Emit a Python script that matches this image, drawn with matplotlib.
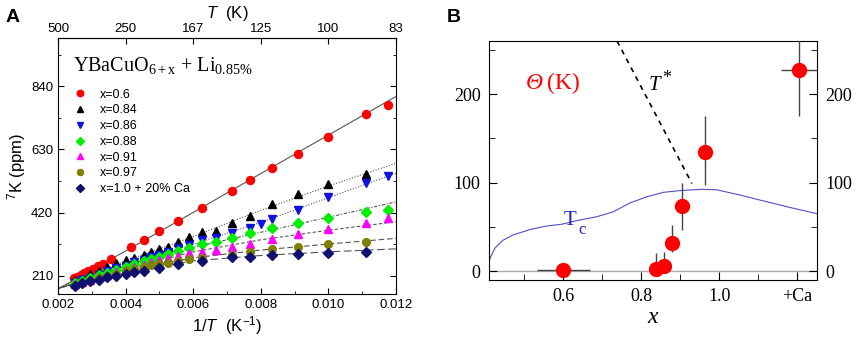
import numpy as np
import matplotlib
matplotlib.use("Agg")
import matplotlib.pyplot as plt
from matplotlib.lines import Line2D

plt.rcParams["mathtext.fontset"] = "custom"
plt.rcParams["mathtext.rm"] = "Liberation Sans"
plt.rcParams["mathtext.it"] = "Liberation Sans:italic"

# ---------------- Panel A data ----------------
# temperatures (K) at which 7K shift was measured, and shift values (ppm)
T_red = [405, 390, 375, 360, 345, 330, 315, 300, 280, 240, 220, 200, 180, 160, 140, 130, 120, 110, 100, 90, 85]
K_red = [202, 207, 213, 219, 226, 234, 242, 251, 266, 305, 329, 360, 392, 436, 493, 527, 567, 616, 672, 748, 777]

T_blk = [400, 370, 340, 310, 290, 270, 250, 235, 220, 210, 200, 190, 180, 170, 160, 150, 140, 130, 120, 110, 100, 90]
K_blk = [195, 200, 215, 228, 240, 252, 262, 271, 280, 291, 298, 306, 322, 338, 355, 360, 387, 409, 448, 481, 514, 548]

T_blu = [400, 370, 340, 310, 290, 270, 250, 235, 220, 210, 200, 190, 180, 170, 160, 150, 140, 130, 125, 120, 110, 100, 90, 85]
K_blu = [186, 195, 204, 214, 225, 235, 244, 255, 262, 272, 278, 290, 302, 312, 329, 335, 354, 370, 381, 398, 428, 473, 518, 542]

T_grn = [400, 370, 340, 310, 290, 270, 250, 235, 220, 210, 200, 190, 180, 170, 160, 150, 140, 130, 120, 110, 100, 90, 85]
K_grn = [185, 192, 203, 212, 220, 230, 241, 250, 258, 266, 273, 284, 294, 302, 316, 322, 335, 352, 370, 387, 403, 424, 430]

T_mag = [400, 370, 340, 310, 290, 270, 250, 235, 220, 210, 200, 190, 180, 170, 160, 150, 140, 130, 120, 110, 100, 90, 85]
K_mag = [183, 190, 198, 207, 214, 224, 231, 241, 247, 255, 262, 268, 275, 285, 291, 296, 305, 316, 334, 350, 366, 387, 401]

T_olv = [400, 370, 340, 310, 290, 270, 250, 235, 220, 210, 200, 190, 180, 170, 160, 140, 130, 120, 110, 100, 90]
K_olv = [180, 188, 196, 204, 210, 218, 226, 233, 240, 246, 250, 254, 258, 265, 268, 278, 290, 299, 305, 315, 322]

T_nvy = [400, 370, 340, 310, 290, 270, 250, 235, 220, 200, 180, 160, 140, 130, 120, 110, 100, 90]
K_nvy = [178, 186, 192, 198, 206, 210, 218, 222, 225, 237, 250, 258, 272, 272, 281, 283, 287, 291]

labels_A = ["x=0.6", "x=0.84", "x=0.86", "x=0.88", "x=0.91", "x=0.97", "x=1.0 + 20% Ca"]

# fit curves read at these 1/T positions
fit_u = [0.002, 0.004, 0.006, 0.008, 0.010, 0.012]
fit_red = [167, 293, 421, 550, 678, 806]
fit_blk = [169, 260, 341, 428, 509, 584]
fit_blu = [169, 245, 315, 388, 470, 551]
fit_grn = [169, 240, 305, 355, 405, 456]
fit_mag = [169, 232, 290, 330, 362, 390]
fit_olv = [169, 228, 270, 296, 316, 335]
fit_nvy = [169, 222, 260, 278, 290, 300]

bottom_ticks = [0.002, 0.004, 0.006, 0.008, 0.010, 0.012]
bottom_labels = ["0.002", "0.004", "0.006", "0.008", "0.010", "0.012"]
top_tick_T = [500, 250, 500 / 3, 125, 100, 250 / 3]
top_labels = ["500", "250", "167", "125", "100", "83"]
left_ticks = [210, 420, 630, 840]

# ---------------- Panel B data ----------------
x_B = [0.6, 0.838, 0.858, 0.879, 0.905, 0.963, 1.205]
theta = [1, 2, 6, 32, 74, 135, 227]
theta_err_lo = [0, 0, 0, 10, 28, 38, 52]
theta_err_hi = [0, 18, 16, 20, 26, 40, 52]
x_err = [0.068, 0, 0, 0, 0, 0.018, 0.048]

tc_x = [0.41, 0.412, 0.425, 0.446, 0.472, 0.515, 0.557, 0.596, 0.634, 0.686, 0.728, 0.771,
        0.814, 0.856, 0.899, 0.955, 0.993, 1.053, 1.121, 1.181, 1.25]
tc_y = [10, 14, 26, 35, 41, 47, 51, 53, 57, 61.5, 67, 77, 84, 89, 91, 92.5, 92, 86, 78.5, 72, 65]

tstar_x = [0.738, 0.93]
tstar_y = [260, 99]

xB_ticks = [0.6, 0.8, 1.0, 1.2]
xB_labels = ["0.6", "0.8", "1.0", "+Ca"]
yB_ticks = [0, 100, 200]

# ---------------- Figure ----------------
fig = plt.figure(figsize=(8.58, 3.39), dpi=100)
sans = ["Liberation Sans", "DejaVu Sans"]
serif = ["Liberation Serif", "DejaVu Serif"]

axA = fig.add_axes([0.0676, 0.1327, 0.394, 0.755])
series = [
    (T_red, K_red, fit_red, "red", "o", "-", 5.8),
    (T_blk, K_blk, fit_blk, "black", "^", (0, (1, 1.5)), 5.5),
    (T_blu, K_blu, fit_blu, "#1010e0", "v", (0, (1, 1.5)), 5.5),
    (T_grn, K_grn, fit_grn, "#00ee00", "D", (0, (3, 1.5, 1, 1.5)), 5.0),
    (T_mag, K_mag, fit_mag, "#ff00ff", "^", (0, (3, 2)), 5.5),
    (T_olv, K_olv, fit_olv, "#808000", "o", (0, (5, 2.5)), 5.5),
    (T_nvy, K_nvy, fit_nvy, "#10106e", "D", (0, (7, 3)), 5.0),
]
handles = []
for (T, K, fit, col, mk, ls, ms), lab in zip(series, labels_A):
    axA.plot(fit_u, fit, color="#555555", lw=0.8, ls=ls, zorder=1)
    u = 1.0 / np.asarray(T, dtype=float)
    axA.plot(u, K, ls="none", marker=mk, color=col, ms=ms, mec=col, zorder=3)
    handles.append(Line2D([], [], ls="none", marker=mk, color=col, ms=ms * 0.8))

axA.set_xlim(0.002, 0.012)
axA.set_ylim(150, 1000)
axA.set_xticks(bottom_ticks)
axA.set_xticklabels(bottom_labels, family=sans, fontsize=9.5)
axA.set_xticks(np.arange(0.003, 0.012, 0.002), minor=True)
axA.set_yticks(left_ticks)
axA.set_yticklabels([str(v) for v in left_ticks], family=sans, fontsize=9.5)
axA.set_yticks([315, 525, 735, 945], minor=True)
axA.tick_params(which="both", direction="in", right=True)
axA.tick_params(which="major", length=4)
axA.tick_params(which="minor", length=2.5)
axA.set_xlabel(r"$\mathit{1/T}$  (K$^{\mathregular{-1}}$)", family=sans, fontsize=12, labelpad=2)
axA.set_ylabel(r"$^{\mathregular{7}}$K (ppm)", family=sans, fontsize=12, labelpad=2)

secA = axA.secondary_xaxis("top")
secA.set_xticks([1.0 / t for t in top_tick_T])
secA.set_xticklabels(top_labels, family=sans, fontsize=9.5)
secA.tick_params(direction="in", length=4, pad=2)
secA.set_xlabel(r"$\mathit{T}$  (K)", family=sans, fontsize=12, labelpad=4)

axA.text(0.045, 0.867, r"YBaCuO$_{\mathregular{6+x}}$ + Li$_{\mathregular{0.85\%}}$",
         transform=axA.transAxes, family=serif, fontsize=14.5, va="baseline")
leg = axA.legend(handles, labels_A, loc="upper left", bbox_to_anchor=(0.035, 0.812),
                 frameon=False, prop={"family": sans, "size": 9}, handlelength=1.2,
                 handletextpad=1.0, labelspacing=0.3, borderaxespad=0, borderpad=0.2)

fig.text(0.006, 0.935, "A", fontsize=14, fontweight="bold", family=sans)
fig.text(0.521, 0.935, "B", fontsize=14, fontweight="bold", family=sans)

# ---------------- Panel B ----------------
axB = fig.add_axes([0.570, 0.174, 0.382, 0.705])
axB.axhline(0, color="#aaaaaa", lw=1.0, zorder=1)
axB.plot(tc_x, tc_y, color="#5050c8", lw=0.8, zorder=2)
axB.plot(tstar_x, tstar_y, color="black", lw=1.2, ls=(0, (3, 3)), zorder=2)
axB.errorbar(x_B, theta, yerr=[theta_err_lo, theta_err_hi], xerr=x_err, fmt="o",
             color="red", ms=10, mec="red", ecolor="#444444", elinewidth=1.0,
             capsize=0, zorder=4)
axB.set_xlim(0.41, 1.25)
axB.set_ylim(-10, 260)
axB.set_xticks(xB_ticks)
axB.set_xticklabels(xB_labels, family=serif, fontsize=13)
axB.set_xticks([0.5, 0.7, 0.9, 1.1], minor=True)
axB.set_yticks(yB_ticks)
axB.set_yticklabels([str(v) for v in yB_ticks], family=serif, fontsize=13)
axB.set_yticks([50, 150, 250], minor=True)
axB.tick_params(which="both", direction="in", right=True, labelright=True)
axB.tick_params(which="major", length=6, pad=6)
axB.tick_params(which="minor", length=4)
axB.set_xlabel("x", family=serif, style="italic", fontsize=17, labelpad=1)
axB.text(0.503, 206, "\u0398", color="red", fontsize=17, family=serif, style="italic")
axB.text(0.558, 206, "(K)", color="red", fontsize=17, family=serif)
axB.text(0.818, 205, "T", fontsize=15, family=serif, style="italic")
axB.text(0.853, 213, "*", fontsize=13, family=serif)
axB.text(0.600, 52, "T", color="#2020d0", fontsize=15, family=serif)
axB.text(0.640, 42, "c", color="#2020d0", fontsize=12, family=serif)

fig.savefig("out.png", dpi=100)
